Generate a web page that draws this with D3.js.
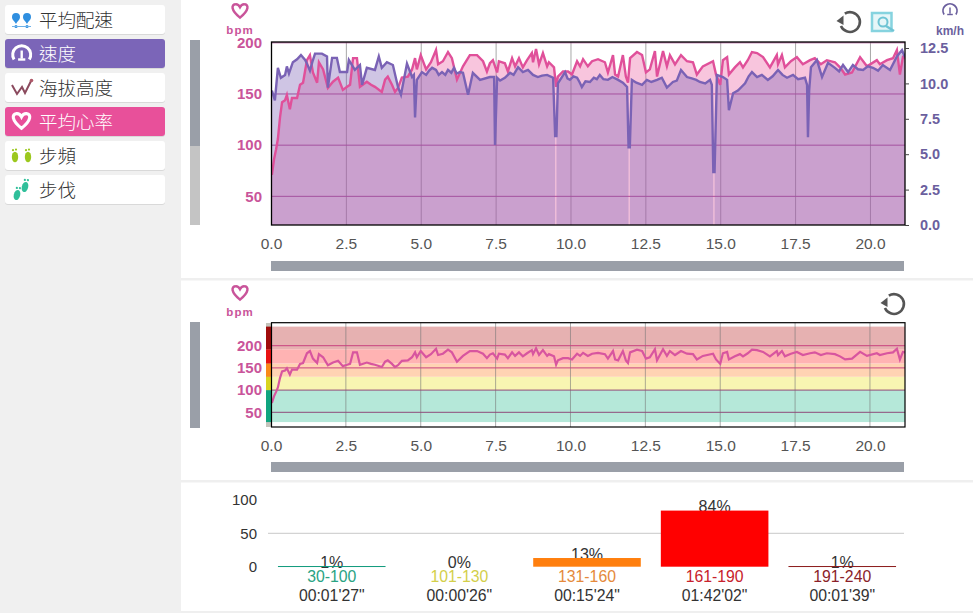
<!DOCTYPE html>
<html>
<head>
<meta charset="utf-8">
<script src="https://cdnjs.cloudflare.com/ajax/libs/d3/7.8.5/d3.min.js"></script>
<style>
html,body{margin:0;padding:0;background:#fff;overflow:hidden}
svg{display:block}
text{font-family:"Liberation Sans",Arial,sans-serif}
.cjk{font-family:"Noto Sans CJK TC",sans-serif;font-weight:300}
.soft{filter:blur(0.4px)}
</style>
</head>
<body>
<script>
// heart rate, km / bpm
const hrKm=[0.03,0.1,0.17,0.23,0.3,0.37,0.47,0.53,0.63,0.7,0.87,0.97,1.07,1.2,1.3,1.4,1.54,1.6,1.74,1.9,2.07,2.24,2.4,2.54,2.64,2.74,2.87,2.97,3.2,3.34,3.47,3.7,3.81,3.9,4.04,4.14,4.24,4.37,4.57,4.71,4.81,4.87,5.0,5.18,5.34,5.51,5.58,5.74,5.91,6.04,6.21,6.41,6.64,6.88,7.08,7.21,7.31,7.41,7.55,7.61,7.81,7.91,8.05,8.15,8.28,8.41,8.55,8.71,8.75,8.85,8.95,9.08,9.22,9.28,9.45,9.52,9.58,9.75,9.92,10.05,10.22,10.32,10.42,10.58,10.72,10.92,11.15,11.25,11.42,11.49,11.59,11.75,11.85,11.92,11.99,12.22,12.39,12.52,12.65,12.82,12.89,13.09,13.22,13.32,13.49,13.69,13.89,14.09,14.22,14.42,14.76,14.86,15.0,15.09,15.23,15.29,15.49,15.66,15.76,15.92,16.06,16.23,16.43,16.66,16.89,16.93,17.06,17.16,17.36,17.56,17.76,18.0,18.16,18.36,18.56,18.83,19.0,19.17,19.4,19.67,19.9,20.23,20.33,20.57,20.77,20.9,21.0,21.1,21.17];
const hrBpm=[71,86,96,106,127,142,144,149,135,146,146,159,161,183,188,171,161,181,174,156,162,166,154,157,159,185,185,157,162,159,157,152,164,167,159,152,156,166,167,174,185,174,188,174,181,193,179,182,191,185,164,177,188,188,182,172,180,183,171,182,180,172,185,177,185,176,183,190,181,194,179,190,177,181,176,157,167,172,172,169,182,177,184,177,182,184,181,171,188,169,167,188,167,161,185,191,188,171,174,192,167,192,177,188,179,188,182,181,169,177,182,169,159,183,186,169,176,181,176,183,191,190,186,176,188,179,188,176,182,186,179,183,185,179,183,181,176,169,171,186,177,183,179,183,185,193,169,186,185];
// speed, km / km/h, null leaves the small gap under the deep dips
const speedKm=[0.03,0.13,0.23,0.33,0.47,0.53,0.6,0.73,0.87,1.0,1.14,1.2,1.3,1.4,1.47,1.7,1.87,1.9,2.04,2.2,2.3,2.54,2.6,2.7,2.8,2.97,3.04,3.2,3.47,3.6,3.7,3.87,4.07,4.24,4.34,4.54,4.71,4.77,4.81,4.87,5.04,5.18,5.28,5.38,5.51,5.6,5.71,5.82,5.91,6.02,6.11,6.2,6.31,6.41,6.58,6.74,6.98,7.31,7.45,7.48,7.55,7.65,7.81,7.98,8.1,8.25,8.41,8.58,8.75,8.91,9.05,9.22,9.42,9.49,9.51,9.53,9.58,9.82,9.9,9.98,10.1,10.22,10.3,10.38,10.5,10.65,10.78,10.88,10.98,11.1,11.25,11.4,11.59,11.75,11.89,11.94,11.96,11.98,12.05,12.2,12.39,12.55,12.7,12.89,13.05,13.22,13.42,13.55,13.69,13.89,14.05,14.2,14.32,14.5,14.66,14.72,14.77,14.79,14.81,14.89,15.09,15.23,15.29,15.43,15.59,15.83,15.95,16.06,16.23,16.39,16.59,16.75,16.93,17.08,17.23,17.43,17.6,17.83,17.9,17.93,17.97,18.03,18.23,18.4,18.6,18.83,18.97,19.1,19.27,19.43,19.6,19.77,19.93,20.1,20.27,20.43,20.67,20.9,21.07,21.17];
const speedKmh=[9.5,8.8,11.1,10.4,10.6,11.2,10.7,11.5,11.7,12.0,11.65,11.4,10.9,11.65,12.1,12.1,11.9,9.7,11.8,11.8,10.8,10.8,11.65,11.3,10.95,11.3,9.9,11.1,10.95,11.9,11.1,11.5,11.3,9.75,9.2,11.4,10.45,10.6,7.6,10.25,10.8,10.6,10.9,11.1,10.95,10.6,10.8,10.6,10.95,10.75,11.1,10.7,10.8,10.75,9.2,10.75,10.25,10.45,10.45,5.65,10.4,10.2,10.4,10.75,10.6,11.15,10.8,10.95,10.6,10.45,10.55,10.6,10.4,6.2,null,6.2,10.0,10.8,10.35,10.25,10.5,10.4,10.1,9.75,10.15,10.1,10.4,10.3,10.6,10.3,10.25,10.45,10.25,10.05,9.75,5.4,null,5.4,10.25,10.05,9.9,10.25,10.1,10.25,10.4,9.7,10.1,10.2,10.95,10.45,10.35,10.25,10.1,10.0,10.25,9.9,3.65,null,3.65,10.6,10.45,10.25,8.1,9.3,9.5,10.0,10.5,10.8,10.45,10.6,10.25,10.5,10.95,10.6,10.4,10.6,10.3,10.4,9.9,6.2,9.5,11.15,11.65,10.45,11.45,11.1,10.85,11.3,10.8,11.3,11.0,10.95,11.2,11.1,10.9,11.3,10.95,11.9,12.35,11.85];

const kmTicks=[0,2.5,5,7.5,10,12.5,15,17.5,20];
const bpmTicks=[50,100,150,200];
const kmhTicks=[0,2.5,5,7.5,10,12.5];
const zoneEdges=[28,100,130,160,192,243];
const zoneFills=["#b5e8d9","#f8f5b2","#ffd3b3","#ffb3b3","#e6b1b1"];
const zoneStrip=["#10a580","#d8d420","#f98a1a","#e81212","#a00c0c"];
const histLabels=["30-100","101-130","131-160","161-190","191-240"];
const histPct=[1,0,13,84,1];
const histTimes=["00:01'27\"","00:00'26\"","00:15'24\"","01:42'02\"","00:01'39\""];
const histColors=["#0f9a7c","#d8d420","#ff7f0e","#ff0000","#8b1a1a"];
const histTextColors=["#2aa383","#d3cf4a","#e58a3c","#c8222c","#8b1f2a"];
const histTicks=[0,50,100];
const menuLabels=["平均配速","速度","海拔高度","平均心率","步頻","步伐"];
const menuFills=["#fff","#7b65b8","#fff","#e8509a","#fff","#fff"];

const width=973,height=613;
const pink="#c9549a",purple="#6b5f9e";
const heartPath="M0,7 C-10,-1 -9,-6.5 -5,-7 C-2.5,-7.4 -0.8,-5.5 0,-4 C0.8,-5.5 2.5,-7.4 5,-7 C9,-6.5 10,-1 0,7Z";

let svg=d3.select("body").append("svg").attr("width",width).attr("height",height);
let defs=svg.append("defs");
defs.append("clipPath").attr("id","clipTop").append("rect").attr("x",271).attr("y",42).attr("width",634).attr("height",183);
defs.append("clipPath").attr("id","clipMid").append("rect").attr("x",271).attr("y",323).attr("width",634).attr("height",104);

// page blocks
svg.append("rect").attr("width",181).attr("height",height).attr("fill","#f0f0f0");
[278,480,611].forEach(y=>svg.append("rect").attr("x",181).attr("y",y).attr("width",width-181).attr("height",2.5).attr("fill","#efefef"));

// side menu
menuLabels.forEach((t,i)=>{
  let y=5+i*34;
  let sel=menuFills[i]!="#fff";
  svg.append("rect").attr("x",5).attr("y",y+1).attr("width",160).attr("height",29).attr("rx",3).attr("fill","#d9d9d9");
  svg.append("rect").attr("x",5).attr("y",y).attr("width",160).attr("height",29).attr("rx",3).attr("fill",menuFills[i]);
  svg.append("text").attr("class","cjk").attr("x",39).attr("y",y+21.5).attr("font-size",18.5)
    .attr("fill",sel?"#fff":"#333").text(t);
});
// menu icons
let ic=svg.append("g");
[16,27].forEach(x=>{
  ic.append("path").attr("d",`M${x-4},17 a4,4 0 1 1 8,0 c0,3 -2.5,4 -4,7 c-1.5,-3 -4,-4 -4,-7z`).attr("fill","#2f8fe0");
  ic.append("circle").attr("cx",x).attr("cy",26.5).attr("r",1.6).attr("fill","#2f8fe0");
});
ic.append("line").attr("x1",12).attr("x2",31).attr("y1",26.5).attr("y2",26.5).attr("stroke","#6db2ea").attr("stroke-width",1);
function gauge(g,cx,cy,r,col,sw){
  g.append("path").attr("d",`M${cx-r*0.85},${cy+r*0.5} A${r},${r} 0 1 1 ${cx+r*0.85},${cy+r*0.5}`).attr("fill","none").attr("stroke",col).attr("stroke-width",sw);
  g.append("line").attr("x1",cx).attr("x2",cx).attr("y1",cy-r*0.5).attr("y2",cy+r*0.4).attr("stroke",col).attr("stroke-width",sw*0.8);
  g.append("line").attr("x1",cx-r*0.4).attr("x2",cx+r*0.4).attr("y1",cy+r*0.5).attr("y2",cy+r*0.5).attr("stroke",col).attr("stroke-width",sw*0.8);
}
gauge(ic,21.7,55,9,"#fff",3);
ic.append("path").attr("d","M12,85 L17,94 L22,87 L25,93 L31,81").attr("fill","none").attr("stroke","#8b4a5e").attr("stroke-width",2);
ic.append("circle").attr("cx",31.5).attr("cy",80.5).attr("r",1.8).attr("fill","#b05a6a");
ic.append("path").attr("d",heartPath).attr("transform","translate(21.5,121) scale(1.05)").attr("fill","none").attr("stroke","#fff").attr("stroke-width",3);
function foot(g,x,y,col,rot){
  let f=g.append("g").attr("transform",`translate(${x},${y}) rotate(${rot})`);
  f.append("ellipse").attr("rx",3.2).attr("ry",5.2).attr("fill",col);
  f.append("circle").attr("cx",-2).attr("cy",-6.8).attr("r",1.1).attr("fill",col);
  f.append("circle").attr("cx",1).attr("cy",-7.4).attr("r",1.1).attr("fill",col);
}
foot(ic,15,157,"#9cc81e",0);foot(ic,28,157,"#9cc81e",0);
foot(ic,17,195,"#2fbf9a",15);foot(ic,25,187,"#2fbf9a",15);

// scrollbars
let gray="#9a9fa8";
svg.append("rect").attr("x",190).attr("y",40).attr("width",10).attr("height",106).attr("fill",gray);
svg.append("rect").attr("x",190).attr("y",146).attr("width",10).attr("height",79).attr("fill","#c4c4c4");
svg.append("rect").attr("x",190).attr("y",322).attr("width",10).attr("height",106).attr("fill",gray);
svg.append("rect").attr("x",271).attr("y",261).attr("width",633).attr("height",10).attr("fill",gray);
svg.append("rect").attr("x",271).attr("y",462).attr("width",633).attr("height",10).attr("fill",gray);

let x=d3.scaleLinear().domain([0,21.17]).range([271,905]);
let yHr=d3.scaleLinear().domain([22,200]).range([225,42.8]);
let ySpeed=d3.scaleLinear().domain([0,12.5]).range([225,48]);
let yZone=d3.scaleLinear().domain([50,200]).range([412.3,345.7]);

let hrData=hrKm.map((k,i)=>({k:k,v:hrBpm[i]}));
let speedData=speedKm.map((k,i)=>({k:k,v:speedKmh[i]}));

function xAxis(y,y0,y1){
  let g=svg.append("g").attr("transform",`translate(0,${y})`)
    .call(d3.axisBottom(x).tickValues(kmTicks).tickFormat(d3.format(".1f")).tickSize(-(y1-y0)).tickPadding(13));
  g.select(".domain").remove();
  g.selectAll(".tick line").attr("stroke","#a8a8a8");
  g.selectAll("text").attr("font-size",15.5).attr("fill","#555").attr("font-family","Liberation Sans");
}
function yAxis(scale,left,ticks){
  let g=svg.append("g").attr("transform",`translate(${left},0)`)
    .call(d3.axisLeft(scale).tickValues(ticks).tickSize(0).tickPadding(9));
  g.select(".domain").remove();
  g.selectAll("text").attr("font-size",15).attr("font-weight","bold").attr("fill",pink).attr("font-family","Liberation Sans");
}

// top chart
xAxis(225,42,225);
let topPlot=svg.append("g").attr("clip-path","url(#clipTop)");
topPlot.selectAll(".hgrid").data(bpmTicks).join("line").attr("class","hgrid")
  .attr("x1",271).attr("x2",905).attr("y1",d=>yHr(d)).attr("y2",d=>yHr(d)).attr("stroke","#a84a92").attr("stroke-width",1);
topPlot.append("path").datum(hrData)
  .attr("d",d3.area().x(d=>x(d.k)).y0(225).y1(d=>yHr(d.v)))
  .attr("fill","#e94b96").attr("fill-opacity",0.32);
topPlot.append("path").datum(speedData)
  .attr("d",d3.area().defined(d=>d.v!=null).x(d=>x(d.k)).y0(225).y1(d=>ySpeed(d.v)))
  .attr("fill","#7a5fb5").attr("fill-opacity",0.36);
topPlot.append("path").datum(hrData).attr("class","soft")
  .attr("d",d3.line().x(d=>x(d.k)).y(d=>yHr(d.v)))
  .attr("fill","none").attr("stroke","#e0509a").attr("stroke-width",2.4);
topPlot.append("path").datum(speedData).attr("class","soft")
  .attr("d",d3.line().defined(d=>d.v!=null).x(d=>x(d.k)).y(d=>ySpeed(d.v)))
  .attr("fill","none").attr("stroke","#7a62b5").attr("stroke-width",2.4);
svg.append("rect").attr("x",271.5).attr("y",42).attr("width",633.5).attr("height",183).attr("fill","none").attr("stroke","#000").attr("stroke-width",1.3);
yAxis(yHr,271,bpmTicks);
let rightAxis=svg.append("g").attr("transform","translate(905,0)")
  .call(d3.axisRight(ySpeed).tickValues(kmhTicks).tickFormat(d3.format(".1f")).tickSize(4).tickPadding(11));
rightAxis.select(".domain").remove();
rightAxis.selectAll("line").attr("stroke","#444");
rightAxis.selectAll("text").attr("font-size",14.5).attr("font-weight","bold").attr("fill",purple).attr("font-family","Liberation Sans");

// middle chart
xAxis(427,323,427);
let midPlot=svg.append("g").attr("clip-path","url(#clipMid)");
let zones=zoneFills.map((f,i)=>({a:zoneEdges[i],b:zoneEdges[i+1],fill:f,strip:zoneStrip[i]}));
midPlot.append("rect").attr("x",271).attr("y",323).attr("width",634).attr("height",104).attr("fill","#fff");
midPlot.selectAll(".zone").data(zones).join("rect").attr("class","zone")
  .attr("x",271).attr("width",634).attr("y",d=>yZone(d.b)).attr("height",d=>yZone(d.a)-yZone(d.b)).attr("fill",d=>d.fill);
midPlot.selectAll(".vgrid").data(kmTicks).join("line").attr("class","vgrid")
  .attr("x1",d=>x(d)).attr("x2",d=>x(d)).attr("y1",323).attr("y2",427).attr("stroke","#777").attr("stroke-opacity",0.6);
midPlot.selectAll(".hgrid").data(bpmTicks).join("line").attr("class","hgrid")
  .attr("x1",271).attr("x2",905).attr("y1",d=>yZone(d)).attr("y2",d=>yZone(d)).attr("stroke",(d,i)=>i>1?"#c8427f":"#8f4a7a").attr("stroke-width",1);
midPlot.append("path").datum(hrData).attr("class","soft")
  .attr("d",d3.line().x(d=>x(d.k)).y(d=>yZone(d.v)))
  .attr("fill","none").attr("stroke","#d8559f").attr("stroke-width",2.2);
svg.append("rect").attr("x",266).attr("y",323).attr("width",5).attr("height",104).attr("fill","#c4c4bc");
svg.selectAll(".strip").data(zones).join("rect").attr("class","strip")
  .attr("x",266).attr("width",5).attr("y",d=>yZone(d.b)).attr("height",d=>yZone(d.a)-yZone(d.b)).attr("fill",d=>d.strip);
svg.append("rect").attr("x",271.5).attr("y",322.7).attr("width",633.5).attr("height",104.3).attr("fill","none").attr("stroke","#000").attr("stroke-width",1.2);
yAxis(yZone,271,bpmTicks);

// hearts, units, tools
function unitHeart(cy,ty){
  svg.append("path").attr("d",heartPath).attr("transform",`translate(240,${cy}) scale(0.95)`).attr("fill","none").attr("stroke",pink).attr("stroke-width",2.6);
  svg.append("text").attr("x",240).attr("y",ty).attr("text-anchor","middle").attr("font-size",11.5).attr("font-weight","bold").attr("letter-spacing",1).attr("fill",pink).text("bpm");
}
unitHeart(11,34);
unitHeart(293,316);
function refresh(cx,cy){
  svg.append("path").attr("d",d3.arc()({innerRadius:8.6,outerRadius:11.2,startAngle:-0.55,endAngle:4.3})).attr("transform",`translate(${cx},${cy})`).attr("fill","#555");
  svg.append("path").attr("d",`M${cx-13.5},${cy-1} L${cx-6.5},${cy-6.5} L${cx-6.5},${cy+3}Z`).attr("fill","#555");
}
refresh(850,22);
refresh(894,304);
svg.append("rect").attr("x",872).attr("y",13).attr("width",19.5).attr("height",18).attr("fill","#e6f6f8").attr("stroke","#86d3df").attr("stroke-width",2.5);
svg.append("circle").attr("cx",883).attr("cy",22).attr("r",4.5).attr("fill","none").attr("stroke","#6fc4d4").attr("stroke-width",2);
svg.append("line").attr("x1",886).attr("y1",26).attr("x2",894).attr("y2",31).attr("stroke","#6fc4d4").attr("stroke-width",2.5);
gauge(svg.append("g"),950,11,7,purple,1.8);
svg.append("text").attr("x",950).attr("y",35).attr("text-anchor","middle").attr("font-size",12).attr("font-weight","bold").attr("fill",purple).text("km/h");

// histogram
let band=d3.scaleBand().domain(histLabels).range([268,906]).paddingInner(0.157).paddingOuter(0.078);
let yPct=d3.scaleLinear().domain([0,100]).range([566.7,499.9]);
let hAxis=svg.append("g").attr("transform","translate(268,0)")
  .call(d3.axisLeft(yPct).tickValues(histTicks).tickSize(0).tickPadding(11));
hAxis.select(".domain").remove();
hAxis.selectAll("text").attr("font-size",15).attr("fill","#333").attr("font-family","Liberation Sans");
svg.append("line").attr("x1",268).attr("x2",904).attr("y1",yPct(50)).attr("y2",yPct(50)).attr("stroke","#c8c8c8");
let hist=histLabels.map((l,i)=>({l:l,p:histPct[i],t:histTimes[i],c:histColors[i],tc:histTextColors[i]}));
let cols=svg.selectAll(".col").data(hist).join("g").attr("class","col");
let midX=d=>band(d.l)+band.bandwidth()/2;
cols.append("text").attr("x",midX).attr("y",d=>yPct(d.p)+1.5).attr("text-anchor","middle").attr("font-size",16).attr("fill","#333").text(d=>d.p+"%");
cols.filter(d=>d.p>0).append("rect").attr("x",d=>band(d.l)).attr("width",band.bandwidth())
  .attr("y",d=>yPct(d.p)).attr("height",d=>Math.max(1,yPct(0)-yPct(d.p))).attr("fill",d=>d.c);
cols.append("text").attr("x",midX).attr("y",581.7).attr("text-anchor","middle").attr("font-size",15.8).attr("fill",d=>d.tc).text(d=>d.l);
cols.append("text").attr("x",midX).attr("y",600.7).attr("text-anchor","middle").attr("font-size",15.8).attr("fill","#333").text(d=>d.t);
</script>
</body>
</html>
